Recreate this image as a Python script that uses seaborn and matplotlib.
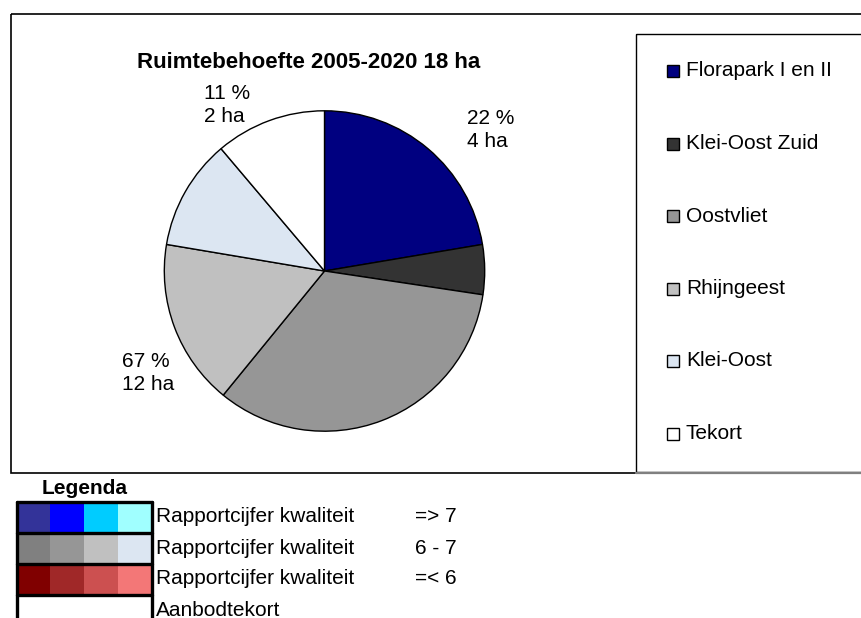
import matplotlib
matplotlib.use("Agg")
import matplotlib.pyplot as plt
from matplotlib.colors import ListedColormap
from matplotlib.patches import Rectangle
import numpy as np
import seaborn as sns

# ---------------- data ----------------
title = "Ruimtebehoefte 2005-2020 18 ha"
categories = ["Florapark I en II", "Klei-Oost Zuid", "Oostvliet", "Rhijngeest", "Klei-Oost", "Tekort"]
hectares = [4.0, 0.9, 6.0, 3.0, 2.0, 2.0]
slice_colors = ["#000080", "#333333", "#969696", "#C0C0C0", "#DCE6F2", "#FFFFFF"]

group_pct = ["22 %", "67 %", "11 %"]
group_ha = ["4 ha", "12 ha", "2 ha"]

legend_title = "Legenda"
legend_rows = [
    ["#333399", "#0000FF", "#00CCFF", "#A0FFFF"],
    ["#808080", "#969696", "#C0C0C0", "#DCE6F2"],
    ["#800000", "#A02828", "#CC5050", "#F37777"],
    ["#FFFFFF", "#FFFFFF", "#FFFFFF", "#FFFFFF"],
]
legend_texts = ["Rapportcijfer kwaliteit", "Rapportcijfer kwaliteit", "Rapportcijfer kwaliteit", "Aanbodtekort"]
legend_ranges = ["=> 7", "6 - 7", "=< 6", ""]

# ---------------- style ----------------
sns.set_theme(style="white")
plt.rcParams["font.family"] = ["Liberation Sans", "DejaVu Sans"]
plt.rcParams["text.color"] = "black"

W, H = 861, 618
fig = plt.figure(figsize=(W / 100, H / 100), dpi=100)
fig.patch.set_facecolor("white")

def fx(x):
    return x / W

def fy(y):
    return 1 - y / H

FS = 15

# overlay axes in pixel coordinates
ov = fig.add_axes([0, 0, 1, 1], zorder=0)
ov.set_xlim(0, W)
ov.set_ylim(H, 0)
ov.axis("off")

# outer chart frame and legend frame
ov.add_patch(Rectangle((10.5, 13.5), 870, 459, fill=False, edgecolor="black", lw=1.2, clip_on=False))
ov.add_patch(Rectangle((635.5, 33.5), 260, 438.5, fill=False, edgecolor="black", lw=1.0, clip_on=False))
ov.plot([636, 861], [472.5, 472.5], color="#808080", lw=1.6)

# ---------------- pie ----------------
cx, cy, r = 324.5, 271, 161
pax = fig.add_axes([fx(cx - r), fy(cy + r), 2 * r / W, 2 * r / H], zorder=1)
wedges, _ = pax.pie(hectares, colors=slice_colors, startangle=90, counterclock=False,
                    radius=1, wedgeprops=dict(edgecolor="black", linewidth=1.0))
pax.set_xlim(-1.005, 1.005)
pax.set_ylim(-1.005, 1.005)
pax.set_aspect("equal")
pax.axis("off")

ov.text(309, 62, title, ha="center", va="center", fontsize=16, fontweight="bold")

label_pos = [(467, 130), (122, 373), (204, 105)]
for (x, y), p, h in zip(label_pos, group_pct, group_ha):
    ov.text(x, y, f"{p}\n{h}", ha="left", va="center", fontsize=FS, linespacing=1.25)

# legend entries
ys = [71, 143.5, 216, 288.5, 361, 433.5]
for y, c, lab in zip(ys, slice_colors, categories):
    ov.add_patch(Rectangle((667, y - 6), 12, 12, facecolor=c, edgecolor="black", lw=1.0))
    ov.text(686, y, lab, ha="left", va="center", fontsize=FS)

# ---------------- bottom legend (heatmap) ----------------
flat_colors = [c for row in legend_rows for c in row]
idx = np.arange(len(flat_colors)).reshape(len(legend_rows), 4)
top, rowh = 501.5, 31
lax = fig.add_axes([fx(16.5), fy(top + rowh * 4), 135 / W, rowh * 4 / H], zorder=2)
sns.heatmap(idx, cmap=ListedColormap(flat_colors), vmin=-0.5, vmax=len(flat_colors) - 0.5,
            cbar=False, xticklabels=False, yticklabels=False, linewidths=0, ax=lax)
for k in range(len(legend_rows) + 1):
    lax.axhline(k, color="black", lw=2.4, clip_on=False)
lax.axvline(0, color="black", lw=2.4, clip_on=False)
lax.axvline(4, color="black", lw=2.4, clip_on=False)
for s in lax.spines.values():
    s.set_visible(False)

ov.text(85, 488, legend_title, ha="center", va="center", fontsize=FS, fontweight="bold")
for i, (t, rg) in enumerate(zip(legend_texts, legend_ranges)):
    y = top + rowh * i + rowh / 2
    ov.text(156, y, t, ha="left", va="center", fontsize=FS)
    if rg:
        ov.text(415, y, rg, ha="left", va="center", fontsize=FS)

fig.savefig("out.png", dpi=100, facecolor="white")
